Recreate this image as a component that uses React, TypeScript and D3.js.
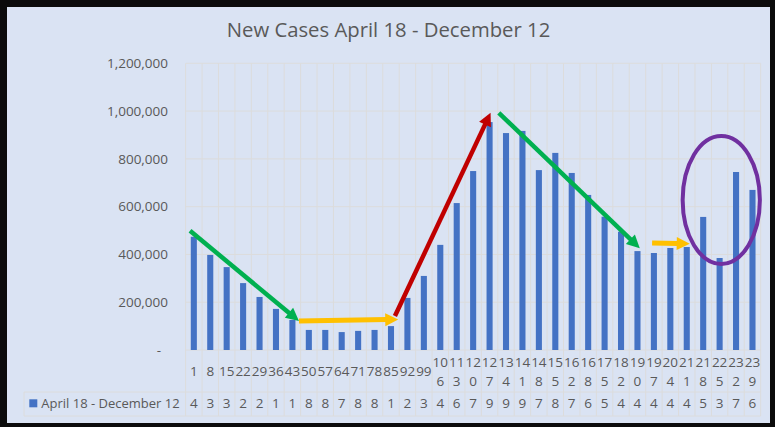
import React from "react";
import * as d3 from "d3";

const title = "New Cases April 18 - December 12";
const seriesName = "April 18 - December 12";

const categories = [
  "1", "8", "15", "22", "29", "36", "43", "50", "57", "64", "71", "78", "85", "92", "99",
  "106", "113", "120", "127", "134", "141", "148", "155", "162", "168", "175", "182", "190",
  "197", "204", "211", "218", "225", "232", "239",
];

const newCases = [
  474000, 398000, 347000, 280000, 222000, 172000, 126000, 84000, 84000, 75000, 80000, 84000,
  100000, 218000, 310000, 440000, 615000, 749000, 954000, 908000, 917000, 753000, 825000,
  741000, 649000, 558000, 495000, 414000, 406000, 427000, 431000, 557000, 385000, 745000, 670000,
];

const yTicks = [0, 200000, 400000, 600000, 800000, 1000000, 1200000];

// Annotation arrows in data units: category position (in category widths from the left) and value
const arrowStartPos = [0.27, 6.9, 12.74, 19.06, 28.39];
const arrowStartVal = [499000, 121000, 142000, 993000, 448000];
const arrowEndPos = [6.9, 12.94, 18.56, 27.64, 30.68];
const arrowEndVal = [121000, 128000, 993000, 426000, 445000];
const arrowKinds = ["down", "flat", "up", "down", "flat"];

// Highlight ellipse in data units
const ellipseCenterPos = 32.6;
const ellipseCenterVal = 628000;
const ellipseHalfWidthPos = 2.35;
const ellipseHalfHeightVal = 268000;

const kindColor: Record<string, string> = {
  down: "#00B050",
  flat: "#FFC000",
  up: "#C00000",
};

const W = 775;
const H = 427;
const X0 = 185.6;
const X1 = 760.7;
const Y0 = 350;
const Y1 = 63.3;
const ROW1 = 392;
const ROW2 = 416;
const LEG_X = 24;
const TEXT = "#595959";
const GRID = "#DCDCDC";
const FONT = "'Open Sans', 'Liberation Sans', sans-serif";

export default function App() {
  const n = categories.length;
  const xBand = d3.scaleBand<string>().domain(categories).range([X0, X1]).paddingInner(0.63).paddingOuter(0.315);
  const xCell = d3.scaleBand<string>().domain(categories).range([X0, X1]);
  const xu = d3.scaleLinear().domain([0, n]).range([X0, X1]);
  const y = d3.scaleLinear().domain([0, 1200000]).range([Y0, Y1]);
  const fmt = d3.format(",");

  const boundaries = categories.map((c) => xCell(c) as number).concat([X1]);

  const arrows = arrowStartPos.map((p, i) => {
    const xa = xu(p), ya = y(arrowStartVal[i]);
    const xb = xu(arrowEndPos[i]), yb = y(arrowEndVal[i]);
    const dx = xb - xa, dy = yb - ya;
    const len = Math.hypot(dx, dy);
    const ux = dx / len, uy = dy / len;
    const headL = 13, headW = 6.5;
    const bx = xb - ux * headL, by = yb - uy * headL;
    const px = -uy, py = ux;
    const head = [
      [xb, yb],
      [bx + px * headW, by + py * headW],
      [bx - px * headW, by - py * headW],
    ]
      .map((q) => q.join(","))
      .join(" ");
    const sw = arrowKinds[i] === "flat" ? 5 : 4.5;
    return { xa, ya, bx: bx + ux * 1, by: by + uy * 1, head, color: kindColor[arrowKinds[i]], sw };
  });

  const ecx = xu(ellipseCenterPos);
  const ecy = y(ellipseCenterVal);
  const erx = xu(ellipseHalfWidthPos) - xu(0);
  const ery = y(0) - y(ellipseHalfHeightVal);

  return (
    <svg
      width={W}
      height={H}
      style={{ position: "fixed", left: 0, top: 0, fontFamily: FONT }}
    >
      <rect x={0} y={0} width={W} height={H} fill="#0B0B0B" />
      <rect x={7} y={7} width={763} height={416} fill="#DAE3F3" />

      <text x={388.5} y={37} textAnchor="middle" fontSize={20.3} fill={TEXT}>
        {title}
      </text>

      {/* horizontal gridlines */}
      {yTicks.map((t) => (
        <line key={"h" + t} x1={X0} x2={X1} y1={y(t)} y2={y(t)} stroke={GRID} strokeWidth={1} />
      ))}
      {/* vertical gridlines through plot and table */}
      {boundaries.map((b, i) => (
        <line key={"v" + i} x1={b} x2={b} y1={Y1} y2={ROW2} stroke={GRID} strokeWidth={1} />
      ))}
      {/* table lines */}
      <line x1={LEG_X} x2={X1} y1={ROW1} y2={ROW1} stroke={GRID} strokeWidth={1} />
      <line x1={LEG_X} x2={X1} y1={ROW2} y2={ROW2} stroke={GRID} strokeWidth={1} />
      <line x1={LEG_X} x2={LEG_X} y1={ROW1} y2={ROW2} stroke={GRID} strokeWidth={1} />

      {/* y tick labels */}
      {yTicks.map((t) => (
        <text
          key={"t" + t}
          x={t === 0 ? 161 : 168}
          y={y(t)}
          dy="0.35em"
          textAnchor="end"
          fontSize={13.5}
          fill={TEXT}
        >
          {t === 0 ? "-" : fmt(t)}
        </text>
      ))}

      {/* bars */}
      {categories.map((c, i) => (
        <rect
          key={"b" + c}
          x={xBand(c)}
          y={y(newCases[i])}
          width={xBand.bandwidth()}
          height={y(0) - y(newCases[i])}
          fill="#4472C4"
        />
      ))}

      {/* category labels (table header row) */}
      {categories.map((c) => {
        const cx = (xCell(c) as number) + xCell.bandwidth() / 2;
        if (c.length <= 2) {
          return (
            <text key={"c" + c} x={cx} y={371} dy="0.35em" textAnchor="middle" fontSize={13.5} fill={TEXT}>
              {c}
            </text>
          );
        }
        return (
          <text key={"c" + c} x={cx} textAnchor="middle" fontSize={13.5} fill={TEXT}>
            <tspan x={cx} y={362} dy="0.35em">{c.slice(0, 2)}</tspan>
            <tspan x={cx} y={381} dy="0.35em">{c.slice(2)}</tspan>
          </text>
        );
      })}

      {/* value row (truncated cells) */}
      {categories.map((c, i) => {
        const cx = (xCell(c) as number) + xCell.bandwidth() / 2;
        return (
          <text key={"d" + c} x={cx} y={403.5} dy="0.35em" textAnchor="middle" fontSize={13.5} fill={TEXT}>
            {String(newCases[i]).charAt(0)}
          </text>
        );
      })}

      {/* legend */}
      <rect x={29.3} y={399.3} width={8} height={8} fill="#4472C4" />
      <text x={41.3} y={403.5} dy="0.35em" fontSize={13} fill={TEXT}>
        {seriesName}
      </text>

      {/* annotations */}
      {arrows.map((a, i) => (
        <g key={"a" + i}>
          <line x1={a.xa} y1={a.ya} x2={a.bx} y2={a.by} stroke={a.color} strokeWidth={a.sw} />
          <polygon points={a.head} fill={a.color} />
        </g>
      ))}
      <ellipse cx={ecx} cy={ecy} rx={erx} ry={ery} fill="none" stroke="#7030A0" strokeWidth={4} />
    </svg>
  );
}
